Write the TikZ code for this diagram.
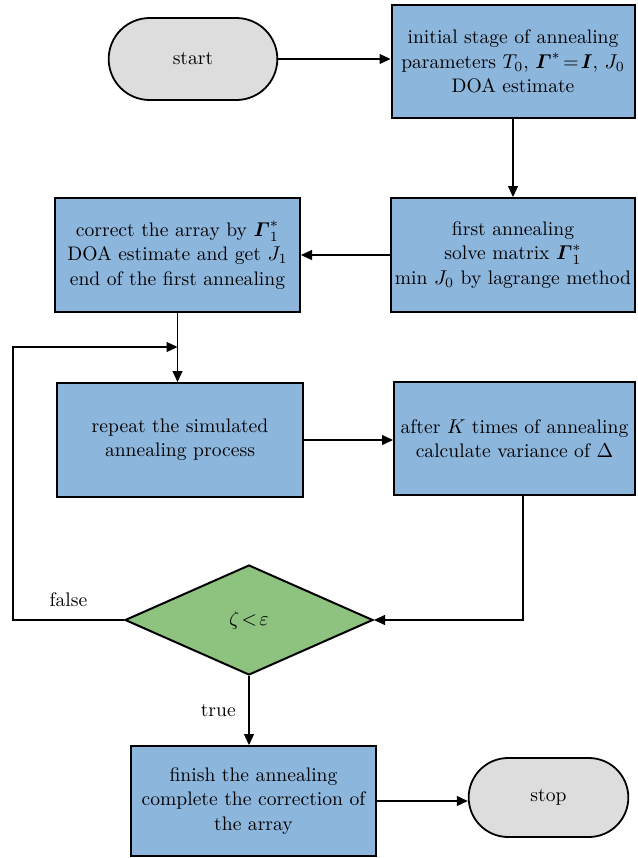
\documentclass[tikz,border=0pt]{standalone}
\usepackage{amsmath}
\usepackage{amssymb}
\usetikzlibrary{shapes.geometric,shapes.misc,arrows.meta}
\definecolor{boxblue}{RGB}{141,182,221}
\definecolor{decgreen}{RGB}{142,195,127}
\definecolor{termgray}{RGB}{221,221,222}
\tikzstyle{procbox} = [draw=black, fill=boxblue, line width=1pt,
rectangle, align=center, inner sep=2pt]
\tikzstyle{termbox} = [draw=black, fill=termgray, line width=0.9pt,
rounded rectangle, align=center]
\tikzstyle{decbox} = [draw=black, fill=decgreen, line width=1pt,
diamond, inner sep=0pt]
\tikzstyle{flow} = [line width=0.6pt, -{Triangle[length=5.5pt,width=5pt]}]

\begin{document}
\begin{tikzpicture}[x=0.5pt, y=-0.5pt, font=\fontsize{9.8}{12.2}\selectfont]
		\useasboundingbox (0,0) rectangle (638,858);
		% top row
		\node [termbox, minimum width=91pt, minimum height=41pt] (start) at (193,59) {start};
		\node [procbox, minimum width=121.5pt, minimum height=56.5pt] (init) at (513,61.5) {%
			initial stage of annealing\\
			parameters $T_0$, $\boldsymbol{\varGamma}^{*}\!=\!\boldsymbol{I}$, $J_0$\\
			DOA estimate};
		% first annealing
		\node [procbox, minimum width=121pt, minimum height=57pt] (first) at (513,255) {%
			first annealing\\
			solve matrix $\boldsymbol{\varGamma}_1^{*}$\\
			min $J_0$ by lagrange method};
		\node [procbox, minimum width=122.5pt, minimum height=57pt] (correct) at (177.5,255) {%
			correct the array by $\boldsymbol{\varGamma}_1^{*}$\\
			DOA estimate and get $J_1$\\
			end of the first annealing};
		% repeated annealing
		\node [procbox, minimum width=123pt, minimum height=57pt] (repeat) at (180,440) {%
			repeat the simulated\\
			annealing process};
		\node [procbox, minimum width=120.5pt, minimum height=56.5pt] (variance) at (514.5,438.5) {%
			after $K$ times of annealing\\
			calculate variance of $\Delta$};
		\node [decbox, minimum width=124pt, minimum height=55pt] (check) at (249,620) {$\zeta\!<\!\varepsilon$};
		% end
		\node [procbox, minimum width=122.5pt, minimum height=55pt] (finish) at (253.5,801) {%
			finish the annealing\\
			complete the correction of\\
			the array};
		\node [termbox, minimum width=86.5pt, minimum height=39.5pt] (stop) at (548.5,797.5) {stop};
		\coordinate (loop) at (13,347);

		\draw [flow] (start.east) -- (start.east -| init.west);
		\draw [flow] (init.south) -- (first.north);
		\draw [flow] (first.west) -- (correct.east);
		\draw [flow] (correct.south) -- (correct.south |- repeat.north);
		\draw [flow] (check.west) -| node [pos=0.25, above=3pt] {false} (loop) -- (loop -| correct.south);
		\draw [flow] (repeat.east) -- (repeat.east -| variance.west);
		\draw [flow] ([xshift=4.25pt]variance.south) |- (check.east);
		\draw [flow] (check.south) -- node [left=3pt] {true} (check.south |- finish.north);
		\draw [flow] (finish.east) -- (finish.east -| stop.west);
\end{tikzpicture}
\end{document}
